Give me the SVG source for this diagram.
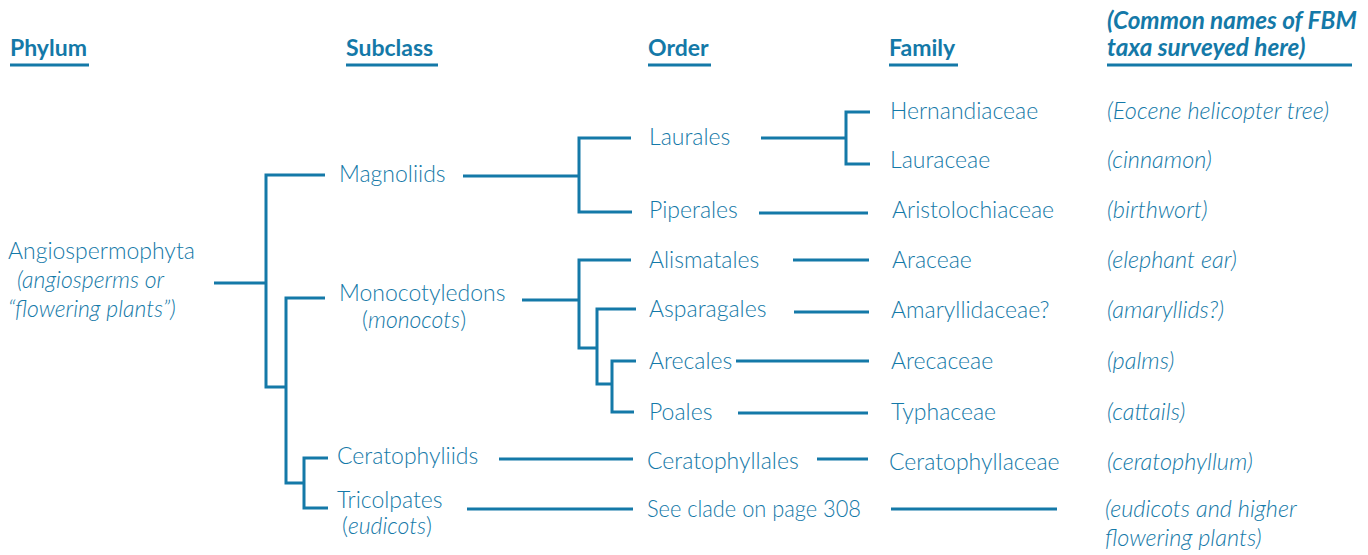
<svg xmlns="http://www.w3.org/2000/svg" width="1368" height="555" viewBox="0 0 1368 555">
<style>
text{fill:#1479a8;font-family:Lato,"Open Sans","Liberation Sans",sans-serif;font-size:23px;font-weight:300}
.h{font-weight:700;font-size:23px}
.hi{font-weight:700;font-style:italic;font-size:24.3px}
.i{font-style:italic}
.c{font-style:italic;font-size:23.5px}
.ln{stroke:#1479a8;stroke-width:3;fill:none}
</style>
<rect width="1368" height="555" fill="#fff"/>
<g id="headers">
<text class="h" x="10" y="56">Phylum</text>
<text class="h" x="346" y="56">Subclass</text>
<text class="h" x="648" y="56">Order</text>
<text class="h" x="889" y="56">Family</text>
<text class="hi"><tspan x="1107" y="29">(Common names of FBM</tspan><tspan x="1107" y="56">taxa surveyed here)</tspan></text>
<path class="ln" d="M10 65H89M346 65H438M648 65H711M889 65H958M1107 65H1352"/>
</g>
<g id="connectors" class="ln">
<path d="M214 283H266M325 175H266V387H286M325 298H286V483H304M328 458H304V508H328"/>
<path d="M463 176H579M631 138H579V212H632"/>
<path d="M761 138H846M870 112H846V164H870"/>
<path d="M759 213H868"/>
<path d="M522 300H579M631 260H579V348H597M636 309H597V384H612M636 361H612V412H634"/>
<path d="M793 260H869M794 312H869M736 361H869M738 413H868"/>
<path d="M499 459H633M817 459H868M467 509H633M891 509H1057"/>
</g>
<g id="n-angio"><text x="8" y="259">Angiospermophyta</text><text class="i" x="17" y="288">(angiosperms or</text><text class="i" x="8" y="317">“flowering plants”)</text></g>
<g id="n-magnoliids"><text x="339" y="182">Magnoliids</text></g>
<g id="n-monocots"><text x="339" y="301">Monocotyledons</text><text x="362" y="328"><tspan>(</tspan><tspan class="i">monocots</tspan><tspan>)</tspan></text></g>
<g id="n-cerat"><text x="337" y="464">Ceratophyliids</text></g>
<g id="n-tricol"><text x="337" y="508">Tricolpates</text><text x="342" y="534"><tspan>(</tspan><tspan class="i">eudicots</tspan><tspan>)</tspan></text></g>
<g id="n-laurales"><text x="649" y="145">Laurales</text></g>
<g id="n-piperales"><text x="649" y="218">Piperales</text></g>
<g id="n-alismatales"><text x="649" y="268">Alismatales</text></g>
<g id="n-asparagales"><text x="649" y="317">Asparagales</text></g>
<g id="n-arecales"><text x="649" y="369">Arecales</text></g>
<g id="n-poales"><text x="649" y="420">Poales</text></g>
<g id="n-ceratophyllales"><text x="647" y="469">Ceratophyllales</text></g>
<g id="n-seeclade"><text x="647" y="517" textLength="214" lengthAdjust="spacingAndGlyphs">See clade on page 308</text></g>
<g id="n-hernandiaceae"><text x="890" y="119">Hernandiaceae</text></g>
<g id="n-lauraceae"><text x="890" y="168">Lauraceae</text></g>
<g id="n-aristolochiaceae"><text x="892" y="218">Aristolochiaceae</text></g>
<g id="n-araceae"><text x="892" y="268">Araceae</text></g>
<g id="n-amaryllidaceae"><text x="891" y="318">Amaryllidaceae?</text></g>
<g id="n-arecaceae"><text x="891" y="369">Arecaceae</text></g>
<g id="n-typhaceae"><text x="891" y="420">Typhaceae</text></g>
<g id="n-ceratophyllaceae"><text x="889" y="470">Ceratophyllaceae</text></g>
<g id="common-names">
<text class="c" x="1107" y="119">(Eocene helicopter tree)</text>
<text class="c" x="1107" y="168">(cinnamon)</text>
<text class="c" x="1107" y="218">(birthwort)</text>
<text class="c" x="1107" y="268">(elephant ear)</text>
<text class="c" x="1107" y="318">(amaryllids?)</text>
<text class="c" x="1107" y="369">(palms)</text>
<text class="c" x="1107" y="420">(cattails)</text>
<text class="c" x="1107" y="470">(ceratophyllum)</text>
<text class="c" x="1105" y="517">(eudicots and higher</text>
<text class="c" x="1105" y="546">flowering plants)</text>
</g>
</svg>
